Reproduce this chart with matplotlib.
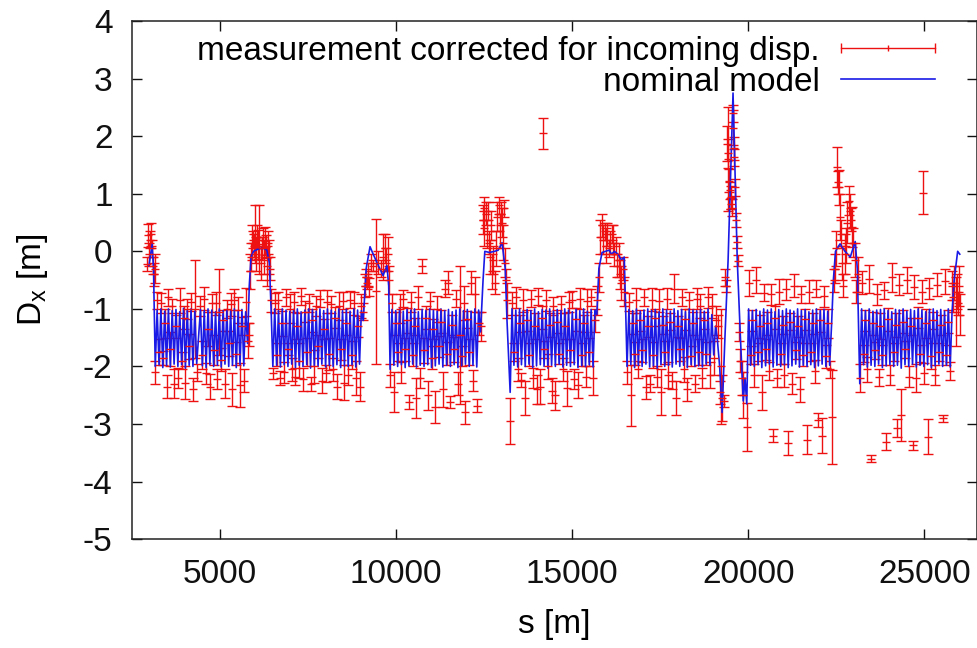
import matplotlib
matplotlib.use('Agg')
import matplotlib.pyplot as plt
from matplotlib.lines import Line2D
from matplotlib.legend_handler import HandlerBase
from matplotlib.container import ErrorbarContainer

RED = '#ee1111'
BLUE = '#1a1ae6'

# ---- nominal model (s in m, Dx in m) ----
start_s = [2980, 3030, 3070, 3110]
start_m = [-0.25, -0.05, 0.12, -0.30]

# arc 1 (BPM positions, model, measured, error)
s1 = [3160, 3213, 3267, 3320, 3374, 3427, 3481, 3534, 3588, 3641, 3695, 3748, 3802, 3855, 3909, 3962,
      4016, 4069, 4123, 4176, 4230, 4283, 4337,
      4444, 4497, 4551, 4604, 4658, 4711, 4765, 4818, 4872, 4925, 4979, 5032, 5086, 5139, 5193, 5246,
      5300, 5353, 5407, 5460, 5514, 5567, 5621, 5674, 5728, 5781]
m1 = [-2.00, -1.02, -1.97, -1.00, -2.02, -1.04, -1.98, -1.00, -2.01, -1.03, -1.96, -1.01, -2.00, -1.05,
      -1.97, -0.99, -2.03, -1.02, -1.98, -1.00, -2.00, -1.04, -1.95,
      -1.01, -1.99, -1.03, -2.02, -1.00, -1.97, -1.02, -2.00, -1.05, -1.98, -1.00, -2.01, -1.03, -1.96,
      -1.01, -2.00, -1.04, -1.98, -1.00, -2.02, -1.03, -1.97, -1.01, -1.99, -1.05, -1.60]
d1 = [-2.10, -0.85, -1.75, -0.90, -1.85, -1.25, -2.35, -0.80, -1.70, -0.95, -2.30, -1.30, -2.20, -0.85,
      -1.90, -1.15, -2.28, -1.00, -1.65, -0.88, -2.40, -1.00, -2.10,
      -0.95, -1.80, -0.82, -2.12, -1.35, -2.35, -0.90, -1.72, -0.90, -2.22, -1.05, -1.88, -1.20, -2.30,
      -1.00, -1.60, -0.92, -2.40, -0.84, -1.78, -1.02, -2.32, -1.30, -2.25, -0.88, -1.55]
e1 = [0.20, 0.15, 0.22, 0.18, 0.12, 0.25, 0.20, 0.15, 0.30, 0.12, 0.25, 0.20, 0.18, 0.22, 0.15, 0.20,
      0.28, 0.18, 0.22, 0.15, 0.20, 0.85, 0.15,
      0.18, 0.25, 0.20, 0.18, 0.30, 0.22, 0.15, 0.26, 0.20, 0.18, 0.75, 0.20, 0.18, 0.25, 0.15, 0.22,
      0.20, 0.28, 0.18, 0.20, 0.22, 0.38, 0.16, 0.20, 0.25, 0.30]

ins1_s = [5830, 5880, 5950, 6050, 6150, 6250, 6330, 6400, 6450]
ins1_m = [-0.60, -0.10, 0.00, 0.03, 0.05, 0.05, 0.02, -0.20, -1.00]

s2 = [6500, 6553, 6607, 6660, 6714, 6767, 6821, 6874, 6928, 6981, 7035, 7088, 7142, 7195, 7249, 7302,
      7356, 7409, 7463, 7516, 7570, 7623, 7677, 7730, 7784, 7837, 7891, 7944, 7998, 8051, 8105, 8158,
      8212, 8265, 8319, 8372, 8426, 8479, 8533, 8586, 8640, 8693, 8747, 8800, 8854, 8907, 8961, 9014, 9068]
m2 = [-2.00, -1.00, -1.98, -1.03, -2.01, -1.00, -1.97, -1.02, -2.00, -1.04, -1.96, -1.01, -2.02, -1.00,
      -1.98, -1.05, -2.00, -1.02, -1.97, -1.00, -2.03, -1.01, -1.99, -1.04, -2.00, -1.00, -1.96, -1.03,
      -2.01, -1.00, -1.98, -1.02, -2.00, -1.05, -1.97, -1.00, -2.02, -1.03, -1.99, -1.01, -2.00, -1.04,
      -1.97, -1.00, -2.01, -1.02, -1.96, -1.03, -1.20]
d2 = [-2.12, -0.90, -1.80, -0.85, -2.20, -1.25, -2.10, -0.80, -1.70, -1.00, -2.05, -0.88, -2.18, -1.30,
      -1.90, -0.78, -2.22, -1.05, -1.75, -0.90, -2.30, -1.20, -2.00, -0.95, -1.65, -0.82, -2.25, -1.35,
      -2.12, -0.88, -1.78, -0.92, -2.05, -1.15, -2.35, -0.95, -1.70, -0.86, -2.28, -1.25, -2.15, -0.84,
      -1.80, -0.90, -2.20, -1.30, -2.35, -0.95, -1.05]
e2 = [0.10, 0.18, 0.20, 0.15, 0.12, 0.22, 0.18, 0.15, 0.10, 0.25, 0.20, 0.18, 0.15, 0.22, 0.30, 0.15,
      0.20, 0.18, 0.25, 0.15, 0.12, 0.20, 0.28, 0.18, 0.20, 0.15, 0.22, 0.18, 0.15, 0.20, 0.28, 0.15,
      0.20, 0.18, 0.22, 0.25, 0.18, 0.15, 0.30, 0.20, 0.18, 0.15, 0.25, 0.20, 0.30, 0.18, 0.25, 0.20, 0.15]

ins2_s = [9150, 9260, 9350, 9460, 9630, 9740, 9790]
ins2_m = [-0.30, 0.08, -0.05, -0.20, -0.42, -0.25, -0.60]

s3 = [9830, 9883, 9937, 9990, 10044, 10097, 10151, 10204, 10258, 10311, 10365, 10418, 10472, 10525,
      10579, 10632, 10686, 10739, 10793, 10846, 10900, 10953, 11007, 11060, 11114, 11167, 11221, 11274,
      11328, 11381, 11435, 11488, 11542, 11595, 11649, 11702, 11756, 11809, 11863, 11916, 11970, 12023,
      12077, 12130, 12184, 12237, 12291, 12344, 12398]
m3 = [-2.05, -1.01, -1.98, -1.03, -2.00, -1.00, -1.97, -1.04, -2.02, -1.01, -1.99, -1.02, -1.96, -1.00,
      -2.01, -1.05, -1.98, -1.01, -2.00, -1.03, -1.97, -1.00, -2.02, -1.02, -1.99, -1.04, -1.96, -1.00,
      -2.01, -1.03, -1.98, -1.01, -2.00, -1.05, -1.97, -1.02, -2.02, -1.00, -1.99, -1.03, -1.96, -1.01,
      -2.00, -1.04, -1.98, -1.00, -2.01, -1.02, -1.40]
d3 = [-2.15, -0.90, -2.45, -1.25, -1.75, -1.00, -2.10, -0.82, -1.70, -1.20, -2.62, -0.88, -1.80, -1.30,
      -2.55, -0.80, -2.20, -0.25, -1.72, -1.15, -2.50, -0.86, -1.85, -1.35, -2.70, -1.00, -1.65, -1.22,
      -2.40, -0.65, -1.78, -0.55, -2.62, -1.28, -1.70, -0.82, -2.30, -1.45, -1.82, -0.90, -2.80, -1.18,
      -1.75, -0.55, -2.25, -0.75, -2.68, -1.25, -1.30]
e3 = [0.20, 0.15, 0.35, 0.20, 0.15, 0.25, 0.18, 0.15, 0.20, 0.22, 0.12, 0.18, 0.20, 0.15, 0.35, 0.20,
      0.18, 0.12, 0.22, 0.20, 0.25, 0.15, 0.20, 0.18, 0.28, 0.22, 0.18, 0.20, 0.30, 0.15, 0.20, 0.20,
      0.10, 0.18, 0.22, 0.15, 0.20, 1.20, 0.18, 0.30, 0.20, 0.15, 0.22, 0.20, 0.18, 0.30, 0.12, 0.20, 0.25]

ins3_s = [12470, 12520, 12650, 12800, 12900, 13010, 13100, 13150]
ins3_m = [-0.50, 0.00, -0.02, 0.00, 0.02, 0.15, -0.30, -1.20]

s4 = [13240, 13293, 13347, 13400, 13454, 13507, 13561, 13614, 13668, 13721, 13775, 13828, 13882, 13935,
      13989, 14042, 14096, 14149, 14203, 14256, 14310, 14363, 14417, 14470, 14524, 14577, 14631, 14684,
      14738, 14791, 14845, 14898, 14952, 15005, 15059, 15112, 15166, 15219, 15273, 15326, 15380, 15433,
      15487, 15540, 15594, 15647, 15701]
m4 = [-2.45, -1.00, -1.98, -1.02, -2.01, -1.00, -1.97, -1.04, -2.00, -1.01, -1.96, -1.03, -2.02, -1.00,
      -1.99, -1.05, -1.97, -1.01, -2.00, -1.02, -2.03, -1.00, -1.98, -1.04, -2.00, -1.01, -1.96, -1.03,
      -2.01, -1.00, -1.98, -1.02, -2.00, -1.05, -1.97, -1.01, -2.02, -1.03, -1.99, -1.00, -2.00, -1.04,
      -1.97, -1.01, -2.01, -1.02, -1.10]
d4 = [-2.95, -0.90, -1.75, -0.80, -2.05, -1.25, -2.24, -0.85, -2.55, -1.20, -1.80, -0.82, -2.20, -1.30,
      -2.40, -0.78, -2.35, -1.15, -1.70, -0.85, -2.00, -1.28, -2.42, -0.95, -2.50, -1.22, -1.78, -0.92,
      -2.05, -1.30, -2.38, -0.88, -1.72, -0.84, -2.22, -1.18, -2.32, -0.82, -1.80, -1.25, -2.18, -0.86,
      -1.75, -0.80, -2.20, -1.20, -0.85]
e4 = [0.40, 0.20, 0.15, 0.18, 0.20, 0.15, 0.12, 0.20, 0.30, 0.18, 0.20, 0.15, 0.18, 0.22, 0.25, 0.15,
      0.30, 0.20, 0.15, 0.18, 0.22, 0.20, 0.22, 0.15, 0.25, 0.20, 0.18, 0.15, 0.20, 0.22, 0.30, 0.18,
      0.20, 0.15, 0.18, 0.20, 0.22, 0.18, 0.20, 0.15, 0.18, 0.20, 0.25, 0.15, 0.30, 0.20, 0.25]

ins4_s = [15760, 15850, 15950, 16050, 16120, 16200, 16300, 16400, 16480, 16520]
ins4_m = [-0.30, -0.02, 0.00, 0.02, -0.05, 0.00, -0.05, -0.15, -0.10, -1.00]

s5 = [16560, 16613, 16667, 16720, 16774, 16827, 16881, 16934, 16988, 17041, 17095, 17148, 17202, 17255,
      17309, 17362, 17416, 17469, 17523, 17576, 17630, 17683, 17737, 17790, 17844, 17897, 17951, 18004,
      18058, 18111, 18165, 18218, 18272, 18325, 18379, 18432, 18486, 18539, 18593, 18646, 18700, 18753,
      18807, 18860, 18914, 18967, 19021, 19074]
m5 = [-2.00, -1.01, -1.97, -1.03, -2.02, -1.00, -1.98, -1.04, -2.00, -1.02, -1.96, -1.00, -2.01, -1.03,
      -1.99, -1.01, -2.03, -1.05, -1.97, -1.00, -2.00, -1.02, -1.98, -1.04, -2.01, -1.00, -1.96, -1.03,
      -2.00, -1.01, -1.98, -1.05, -2.02, -1.00, -1.97, -1.02, -2.00, -1.03, -1.99, -1.01, -2.01, -1.04,
      -1.96, -1.00, -1.98, -1.10, -1.80, -1.30]
d5 = [-2.10, -0.88, -2.50, -1.25, -1.78, -0.85, -2.05, -1.20, -1.72, -0.80, -2.36, -1.30, -2.30, -0.84,
      -1.80, -1.15, -2.18, -0.86, -2.45, -1.28, -1.75, -0.82, -2.15, -1.22, -2.25, -0.65, -2.55, -1.30,
      -1.70, -0.80, -2.05, -1.18, -2.40, -0.85, -1.82, -1.25, -2.30, -0.82, -1.75, -0.95, -2.20, -1.20,
      -1.78, -0.80, -2.15, -0.95, -1.85, -1.20]
e5 = [0.20, 0.15, 0.53, 0.18, 0.20, 0.22, 0.15, 0.18, 0.20, 0.15, 0.20, 0.18, 0.15, 0.20, 0.22, 0.15,
      0.18, 0.20, 0.40, 0.15, 0.20, 0.18, 0.22, 0.15, 0.15, 0.25, 0.30, 0.18, 0.20, 0.15, 0.22, 0.18,
      0.20, 0.15, 0.18, 0.20, 0.15, 0.18, 0.22, 0.20, 0.18, 0.15, 0.20, 0.18, 0.22, 0.20, 0.30, 0.25]

peak_s = [19120, 19190, 19260, 19340, 19430, 19570, 19690, 19780, 19860, 19910]
peak_m = [-1.50, -2.00, -2.80, -1.50, -0.15, 2.75, -0.15, -1.50, -2.60, -2.20]

s6 = [19960, 20013, 20067, 20120, 20174, 20227, 20281, 20334, 20388, 20441, 20495, 20548, 20602, 20655,
      20709, 20762, 20816, 20869, 20923, 20976, 21030, 21083, 21137, 21190, 21244, 21297, 21351, 21404,
      21458, 21511, 21565, 21618, 21672, 21725, 21779, 21832, 21886, 21939, 21993, 22046, 22100, 22153,
      22207, 22260, 22314, 22367]
m6 = [-2.65, -1.00, -1.98, -1.03, -2.00, -1.01, -1.97, -1.04, -2.02, -1.00, -1.99, -1.02, -1.96, -1.00,
      -2.01, -1.05, -1.98, -1.01, -2.00, -1.03, -1.97, -1.00, -2.02, -1.02, -1.99, -1.04, -1.96, -1.00,
      -2.01, -1.03, -1.98, -1.01, -2.00, -1.05, -1.97, -1.02, -2.02, -1.00, -1.99, -1.03, -1.96, -1.01,
      -2.00, -1.04, -1.98, -1.30]
d6 = [-3.05, -0.55, -1.80, -1.20, -2.15, -0.50, -1.75, -1.30, -2.45, -0.72, -1.70, -1.25, -2.08, -0.75,
      -3.20, -1.15, -2.20, -0.70, -1.78, -1.28, -2.15, -0.66, -3.33, -1.22, -2.30, -0.60, -1.72, -1.30,
      -2.40, -0.75, -1.80, -1.18, -3.27, -0.70, -1.75, -1.25, -2.08, -0.65, -2.93, -1.20, -3.20, -0.78,
      -1.82, -1.25, -2.05, -2.88]
e6 = [0.42, 0.22, 0.15, 0.18, 0.20, 0.22, 0.15, 0.20, 0.30, 0.15, 0.18, 0.20, 0.15, 0.18, 0.12, 0.20,
      0.15, 0.22, 0.18, 0.15, 0.20, 0.18, 0.20, 0.15, 0.18, 0.20, 0.15, 0.18, 0.22, 0.15, 0.20, 0.18,
      0.25, 0.20, 0.15, 0.18, 0.20, 0.15, 0.12, 0.20, 0.30, 0.18, 0.20, 0.25, 0.15, 0.82]

ins6_s = [22420, 22480, 22610, 22750, 22900, 23040, 23100]
ins6_m = [-0.50, 0.00, 0.13, 0.00, -0.10, 0.17, -0.30]

s7 = [23170, 23223, 23277, 23330, 23384, 23437, 23491, 23544, 23598, 23651, 23705, 23758, 23812, 23865,
      23919, 23972, 24026, 24079, 24133, 24186, 24240, 24293, 24347, 24400, 24454, 24507, 24561, 24614,
      24668, 24721, 24775, 24828, 24882, 24935, 24989, 25042, 25096, 25149, 25203, 25256, 25310, 25363,
      25417, 25470, 25524, 25577, 25631, 25684, 25738, 25791]
m7 = [-2.30, -1.00, -1.97, -1.03, -2.01, -1.00, -1.98, -1.04, -2.00, -1.02, -1.96, -1.01, -2.02, -1.00,
      -1.99, -1.03, -1.97, -1.05, -2.00, -1.01, -1.98, -1.02, -2.03, -1.00, -1.97, -1.04, -2.00, -1.01,
      -1.96, -1.03, -2.01, -1.00, -1.98, -1.02, -2.00, -1.05, -1.97, -1.01, -2.02, -1.00, -1.99, -1.03,
      -1.96, -1.01, -2.00, -1.04, -1.98, -1.00, -2.01, -1.05]
d7 = [-2.20, -0.55, -1.78, -1.20, -2.05, -0.48, -3.60, -1.25, -1.72, -0.75, -2.19, -1.30, -1.80, -0.68,
      -3.31, -1.18, -2.15, -0.45, -1.75, -1.28, -3.07, -0.58, -2.85, -1.22, -1.70, -0.50, -2.18, -1.30,
      -3.37, -0.62, -2.20, -1.15, -1.78, -0.70, -2.12, -1.25, -3.22, -0.64, -1.82, -1.20, -2.15, -0.58,
      -1.75, -1.28, -2.90, -0.52, -1.80, -1.22, -2.08, -0.60]
e7 = [0.25, 0.20, 0.15, 0.18, 0.22, 0.25, 0.06, 0.20, 0.15, 0.18, 0.15, 0.22, 0.18, 0.15, 0.15, 0.20,
      0.18, 0.25, 0.15, 0.20, 0.15, 0.18, 0.45, 0.20, 0.15, 0.22, 0.18, 0.15, 0.08, 0.20, 0.25, 0.18,
      0.15, 0.20, 0.18, 0.25, 0.30, 0.18, 0.22, 0.15, 0.18, 0.20, 0.15, 0.18, 0.06, 0.22, 0.18, 0.20,
      0.15, 0.25]

end_s = [25850, 25950, 26010]
end_m = [-0.50, 0.00, -0.05]

# ---- measurement points in the insertions ----
st_ms = [2930, 2960, 2990, 3020, 3050, 3075, 3095, 3120, 3140]
st_md = [-0.22, 0.28, -0.05, 0.20, 0.30, 0.05, -0.25, -0.40, -0.30]
st_me = [0.12, 0.20, 0.20, 0.15, 0.20, 0.15, 0.15, 0.20, 0.25]

ir1_ms = [5810, 5850, 5880, 5910, 5940, 5970, 6000, 6030, 6060, 6090, 6120, 6150, 6180, 6210, 6240,
          6270, 6300, 6330, 6360, 6390, 6420, 6460]
ir1_md = [-1.45, -0.35, -0.10, 0.15, 0.20, 0.10, 0.30, -0.05, 0.25, 0.12, 0.20, -0.20, 0.05, 0.25,
          -0.10, 0.18, 0.08, -0.25, 0.15, -0.10, -0.30, -0.85]
ir1_me = [0.20, 0.30, 0.25, 0.30, 0.15, 0.20, 0.50, 0.30, 0.20, 0.25, 0.60, 0.30, 0.20, 0.15, 0.30,
          0.25, 0.20, 0.35, 0.20, 0.30, 0.20, 0.20]

ir2_ms = [9110, 9150, 9180, 9210, 9240, 9300, 9350, 9430, 9500, 9560, 9640, 9680, 9720, 9760, 9800]
ir2_md = [-0.60, -0.45, -0.55, -0.40, -0.62, -0.20, -0.25, -0.69, -0.20, -0.30, -0.10, 0.05, -0.15,
          -0.05, -0.50]
ir2_me = [0.20, 0.15, 0.10, 0.20, 0.15, 0.15, 0.10, 1.26, 0.20, 0.15, 0.40, 0.25, 0.20, 0.30, 0.25]

ir3_ms = [12460, 12490, 12510, 12540, 12570, 12600, 12630, 12660, 12690, 12720, 12760, 12800, 12840,
          12880, 12910, 12940, 12970, 13000, 13030, 13060, 13090, 13120, 13160]
ir3_md = [0.55, 0.75, 0.40, 0.65, 0.30, 0.70, 0.15, -0.10, 0.45, -0.35, -0.15, -0.55, 0.05, 0.60,
          0.80, 0.35, 0.65, 0.50, 0.15, 0.75, -0.20, -0.50, -0.85]
ir3_me = [0.25, 0.20, 0.30, 0.20, 0.25, 0.15, 0.20, 0.30, 0.25, 0.30, 0.25, 0.20, 0.30, 0.25, 0.15,
          0.30, 0.20, 0.25, 0.30, 0.15, 0.25, 0.20, 0.30]

ir4_ms = [15760, 15800, 15840, 15880, 15920, 15960, 16000, 16040, 16080, 16120, 16160, 16200, 16240,
          16280, 16320, 16360, 16400, 16440, 16480]
ir4_md = [-0.45, 0.25, 0.45, 0.20, 0.35, 0.10, 0.30, 0.05, 0.15, 0.30, 0.20, -0.05, 0.10, -0.25,
          -0.15, -0.40, -0.55, -0.30, -0.70]
ir4_me = [0.25, 0.30, 0.20, 0.25, 0.15, 0.30, 0.20, 0.15, 0.20, 0.15, 0.25, 0.20, 0.15, 0.20, 0.30,
          0.25, 0.30, 0.20, 0.25]

pk_ms = [19150, 19200, 19240, 19270, 19300, 19350, 19380, 19400, 19420, 19440, 19460, 19480, 19500,
         19520, 19540, 19560, 19575, 19590, 19610, 19640, 19660, 19690, 19710, 19750, 19780, 19820, 19850]
pk_md = [-1.30, -2.45, -2.00, -2.55, -2.60, -0.45, -0.60, 1.87, 1.60, 1.70, 1.23, 1.06, 0.94, 0.83,
         0.76, 2.15, 2.40, 1.79, 1.63, 1.11, 0.54, 0.16, -0.16, -1.40, -1.90, -2.20, -2.50]
pk_me = [0.20, 0.20, 1.00, 0.40, 0.10, 0.15, 0.10, 0.30, 0.90, 0.25, 0.20, 0.15, 0.20, 0.10, 0.15,
         0.30, 0.15, 0.20, 0.15, 0.15, 0.12, 0.10, 0.10, 0.15, 0.20, 0.30, 0.40]

ir6_ms = [22430, 22470, 22500, 22530, 22560, 22590, 22610, 22640, 22670, 22700, 22740, 22780, 22820,
          22850, 22880, 22910, 22950, 22990, 23030, 23070, 23110]
ir6_md = [-0.50, -0.30, 0.05, 1.46, 1.20, 1.11, 0.60, 0.30, -0.20, -0.60, -0.05, 0.10, 0.50, 0.88,
          0.70, 0.55, 0.42, 0.15, -0.15, -0.70, -0.40]
ir6_me = [0.20, 0.25, 0.30, 0.35, 0.20, 0.30, 0.40, 0.25, 0.30, 0.20, 0.35, 0.30, 0.35, 0.25, 0.30,
          0.20, 0.35, 0.25, 0.30, 0.20, 0.30]

end_ms = [25830, 25860, 25890, 25920, 25950, 25980, 26010]
end_md = [-0.80, -0.55, -1.05, -0.70, -0.90, -0.60, -1.10]
end_me = [0.25, 0.30, 0.60, 0.30, 0.20, 0.35, 0.35]

out_s = [14175, 24970]
out_d = [2.05, 1.02]
out_e = [0.27, 0.38]

model_s = (start_s + s1 + ins1_s + s2 + ins2_s + s3 + ins3_s + s4 + ins4_s + s5 + peak_s + s6
           + ins6_s + s7 + end_s)
model_d = (start_m + m1 + ins1_m + m2 + ins2_m + m3 + ins3_m + m4 + ins4_m + m5 + peak_m + m6
           + ins6_m + m7 + end_m)

meas_s = (st_ms + s1 + ir1_ms + s2 + ir2_ms + s3 + ir3_ms + s4 + ir4_ms + s5 + pk_ms + s6 + ir6_ms
          + s7 + end_ms + out_s)
meas_d = (st_md + d1 + ir1_md + d2 + ir2_md + d3 + ir3_md + d4 + ir4_md + d5 + pk_md + d6 + ir6_md
          + d7 + end_md + out_d)
meas_e = (st_me + e1 + ir1_me + e2 + ir2_me + e3 + ir3_me + e4 + ir4_me + e5 + pk_me + e6 + ir6_me
          + e7 + end_me + out_e)


class ErrorbarKey(HandlerBase):
    # gnuplot style key: |---+---|
    def create_artists(self, legend, orig_handle, xdescent, ydescent, width, height, fontsize, trans):
        x0, x1 = -xdescent, width - xdescent
        y = height / 2 - ydescent
        line = Line2D([x0, x1], [y, y], color=RED, lw=1.0, transform=trans)
        caps = Line2D([x0, x1], [y, y], ls='none', marker='|', markersize=7, mew=1.0,
                      color=RED, transform=trans)
        mid = Line2D([(x0 + x1) / 2], [y], ls='none', marker='|', markersize=5, mew=1.0,
                     color=RED, transform=trans)
        return [line, caps, mid]


plt.rcParams['font.family'] = ['Liberation Sans', 'DejaVu Sans']
plt.rcParams['mathtext.default'] = 'regular'
plt.rcParams['axes.unicode_minus'] = False
plt.rcParams['font.size'] = 24

fig = plt.figure(figsize=(9.78, 6.48), dpi=100)
ax = fig.add_axes([0.135, 0.168, 0.864, 0.7995])

eb = ax.errorbar(meas_s, meas_d, yerr=meas_e, fmt='_', color=RED, ecolor=RED, elinewidth=1.0,
                 capsize=3.3, capthick=1.0, markersize=6, markeredgewidth=1.0)
ln, = ax.plot(model_s, model_d, color=BLUE, lw=1.2)

ax.set_xlim(2500, 26500)
ax.set_ylim(-5, 4)
ax.set_xticks([5000, 10000, 15000, 20000, 25000])
ax.set_yticks(range(-5, 5))
ax.tick_params(direction='in', length=7, width=1.0, top=True, right=True, pad=14, colors='#111111')
for sp in ax.spines.values():
    sp.set_linewidth(1.1)
    sp.set_color('#222222')

ax.set_xlabel('s [m]', labelpad=14)
ax.set_ylabel('D$_x$ [m]', labelpad=24)

ax.legend([eb, ln], ['measurement corrected for incoming disp.', 'nominal model'],
          loc='upper right', bbox_to_anchor=(0.950, 0.972), frameon=False, markerfirst=False,
          handlelength=2.8, handletextpad=0.65, labelspacing=0.0, borderpad=0, borderaxespad=0,
          handler_map={ErrorbarContainer: ErrorbarKey()})

fig.savefig('out.png', dpi=100)
